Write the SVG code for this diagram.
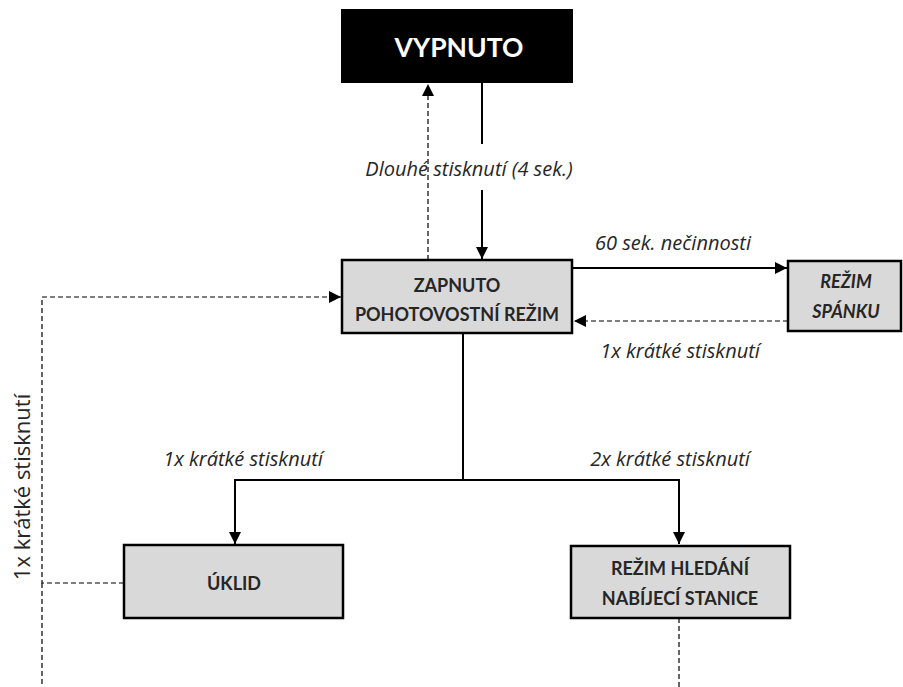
<svg xmlns="http://www.w3.org/2000/svg" width="903" height="687" viewBox="0 0 903 687">
<defs>
<style>
.box{fill:#d9d9d9;stroke:#000;stroke-width:2.5}
.nt{font-family:Lato,"Open Sans","Liberation Sans",sans-serif;font-weight:bold;font-size:18px;fill:#262626;text-anchor:middle}
.lbl{font-family:"Open Sans","Liberation Sans",sans-serif;font-style:italic;font-size:20px;fill:#262626;text-anchor:middle}
.solid{fill:none;stroke:#000;stroke-width:2}
.dash{fill:none;stroke:#000;stroke-width:1.2;stroke-dasharray:5,3}
</style>
<marker id="ah" viewBox="0 0 10 10" refX="10" refY="5" markerWidth="12" markerHeight="12" markerUnits="userSpaceOnUse" orient="auto"><path d="M0,0L10,5L0,10z" fill="#000"/></marker>
</defs>
<rect width="903" height="687" fill="#fff"/>
<g id="connectors">
<line class="dash" x1="428" y1="260" x2="428" y2="84" marker-end="url(#ah)"/>
<line class="solid" x1="482" y1="83" x2="482" y2="144"/>
<line class="solid" x1="482" y1="190" x2="482" y2="259" marker-end="url(#ah)"/>
<line class="solid" x1="572" y1="268" x2="787" y2="268" marker-end="url(#ah)"/>
<line class="dash" x1="788" y1="321" x2="574" y2="321" marker-end="url(#ah)"/>
<polyline class="dash" points="124,583 42,583 42,297 341,297" marker-end="url(#ah)"/>
<line class="dash" x1="42" y1="583" x2="42" y2="687"/>
<polyline class="solid" points="463,333 463,480 235,480 235,544" marker-end="url(#ah)"/>
<polyline class="solid" points="463,480 679,480 679,544" marker-end="url(#ah)"/>
<line class="dash" x1="679" y1="618" x2="679" y2="687"/>
<text class="lbl" x="469" y="176" font-size="22.5">Dlouhé stisknutí (4 sek.)</text>
<text class="lbl" x="673" y="250">60 sek. nečinnosti</text>
<text class="lbl" x="680" y="358">1x krátké stisknutí</text>
<text class="lbl" x="243" y="466">1x krátké stisknutí</text>
<text class="lbl" x="670" y="466">2x krátké stisknutí</text>
<text font-family="'Open Sans','Liberation Sans',sans-serif" font-size="22" fill="#262626" text-anchor="middle" transform="translate(30,487) rotate(-90)">1x krátké stisknutí</text>
</g>
<g id="vypnuto">
<rect x="341" y="9" width="232" height="74" fill="#000"/>
<text x="459" y="57" font-family="Lato,'Open Sans','Liberation Sans',sans-serif" font-weight="bold" font-size="26.5" fill="#fff" text-anchor="middle">VYPNUTO</text>
</g>
<g id="zapnuto">
<rect class="box" x="342" y="260" width="230" height="73"/>
<text class="nt" x="457" y="292" font-size="19">ZAPNUTO</text>
<text class="nt" x="457" y="321" font-size="19">POHOTOVOSTNÍ REŽIM</text>
</g>
<g id="spanek">
<rect class="box" x="788" y="261" width="113" height="70"/>
<text class="nt" x="846" y="288" font-style="italic" font-size="19">REŽIM</text>
<text class="nt" x="846" y="318" font-style="italic" font-size="19">SPÁNKU</text>
</g>
<g id="uklid">
<rect class="box" x="124" y="545" width="219" height="73"/>
<text class="nt" x="234" y="590">ÚKLID</text>
</g>
<g id="hledani">
<rect class="box" x="571" y="546" width="219" height="72"/>
<text class="nt" x="680" y="575">REŽIM HLEDÁNÍ</text>
<text class="nt" x="680" y="605">NABÍJECÍ STANICE</text>
</g>
</svg>
